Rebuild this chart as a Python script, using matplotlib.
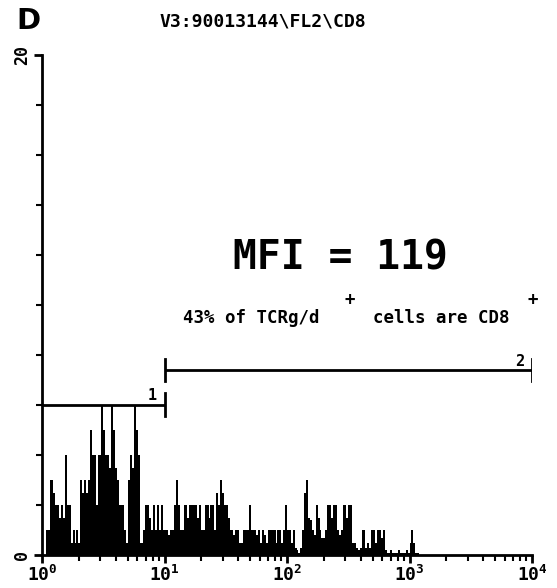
import numpy as np
import matplotlib
matplotlib.use("Agg")
import matplotlib.pyplot as plt
from matplotlib.ticker import FixedLocator, NullFormatter

# counts per channel, 64 channels per decade
counts_dec0 = [0, 0, 1, 1, 3, 3, 2.5, 2, 2, 1.5, 2, 1.5, 4, 2, 2, 0.5,
               1, 0.5, 1, 0.5, 3, 2.5, 3, 2.5, 3, 5, 4, 4, 2, 4, 4, 6,
               5, 4, 4, 3.5, 6, 5, 3.5, 3, 2, 2, 2, 1, 0.5, 3, 4, 3.5,
               6, 5, 4, 0.5, 0.5, 1, 2, 2, 1.5, 1, 2, 1, 2, 1, 2, 1]
counts_dec1 = [1, 1, 0.8, 1, 1, 2, 3, 2, 1, 1, 2, 2, 1.5, 2, 2, 2,
               2, 1.5, 2, 1, 1, 2, 2, 1.5, 2, 2, 1, 2.5, 2, 3, 2.5, 2,
               2, 1.5, 1, 1, 0.8, 1, 1, 0.5, 0.5, 1, 1, 1, 2, 1, 1, 1,
               0.8, 1, 0.5, 1, 0.8, 0.5, 1, 1, 1, 1, 0.5, 1, 1, 0.5, 1, 2]
counts_dec2 = [1, 1, 0.5, 1, 0.3, 0.2, 0.1, 0.3, 1, 2.5, 3, 1.5, 1.4, 1, 0.8, 2,
               1.5, 1, 0.7, 0.7, 1, 2, 2, 1.5, 2, 2, 1, 0.8, 1, 2, 2, 1.5,
               2, 2, 0.5, 0.5, 0.3, 0.2, 0.3, 1, 1, 0.3, 0.5, 0.3, 1, 1, 0.5, 1,
               1, 0.7, 1, 0.2, 0.1, 0.1, 0.2, 0.1, 0.1, 0.1, 0.2, 0.1, 0.1, 0.1, 0.2, 0.1,
               0.5, 1, 0.5, 0.1, 0.1, 0, 0, 0]
counts = np.array(counts_dec0 + counts_dec1 + counts_dec2)
channels_per_decade = 64

gate1 = (1, 10, 6.0)
gate2 = (10, 1e4, 7.4)

title = "V3:90013144\\FL2\\CD8"
mfi_text = "MFI = 119"

plt.rcParams['mathtext.fontset'] = 'custom'
plt.rcParams['mathtext.rm'] = 'DejaVu Sans Mono:bold'
plt.rcParams['mathtext.it'] = 'DejaVu Sans Mono:bold'
plt.rcParams['mathtext.bf'] = 'DejaVu Sans Mono:bold'

W, H = 557, 588
fig = plt.figure(figsize=(W / 100, H / 100), dpi=100)
ax = fig.add_axes([42 / W, 33 / H, 490 / W, 500 / H])

edges = 10 ** (np.arange(len(counts) + 1) / channels_per_decade)
ax.stairs(counts, edges, fill=True, color='black', linewidth=0)

ax.set_xscale('log')
ax.set_xlim(1, 1e4)
ax.set_ylim(0, 20)

for s in ['top', 'right']:
    ax.spines[s].set_visible(False)
for s in ['left', 'bottom']:
    ax.spines[s].set_linewidth(2)

# x ticks
ax.xaxis.set_major_locator(FixedLocator([1, 10, 100, 1000, 10000]))
minors = [m * 10 ** d for d in range(4) for m in range(2, 10)]
ax.xaxis.set_minor_locator(FixedLocator(minors))
ax.xaxis.set_minor_formatter(NullFormatter())
ax.set_xticklabels([r'$10^{0}$', r'$10^{1}$', r'$10^{2}$', r'$10^{3}$', r'$10^{4}$'],
                   fontsize=13)
ax.tick_params(axis='x', which='major', direction='out', length=6, width=2, pad=1)
ax.tick_params(axis='x', which='minor', direction='out', length=4, width=1.5)

# y ticks
ax.yaxis.set_major_locator(FixedLocator([0, 20]))
ax.yaxis.set_minor_locator(FixedLocator(list(range(2, 20, 2))))
ax.set_yticklabels(['0', '20'], rotation=90, va='center',
                   fontfamily='DejaVu Sans Mono', fontweight='bold', fontsize=12)
ax.tick_params(axis='y', which='major', direction='out', length=6, width=2, pad=2)
ax.tick_params(axis='y', which='minor', direction='out', length=4, width=1.5)

# gate markers
x0, x1, y = gate1
ax.plot([x0, x1], [y, y], color='black', lw=2, solid_capstyle='butt')
ax.plot([x1, x1], [y - 0.45, y + 0.5], color='black', lw=2)
ax.text(x1 * 0.86, y + 0.1, '1', ha='right', va='bottom',
        fontfamily='DejaVu Sans Mono', fontweight='bold', fontsize=11)
x0, x1, y = gate2
ax.plot([x0, x1], [y, y], color='black', lw=2, solid_capstyle='butt')
for xe in (x0, x1):
    ax.plot([xe, xe], [y - 0.45, y + 0.45], color='black', lw=2)
ax.text(x1 * 0.86, y + 0.05, '2', ha='right', va='bottom',
        fontfamily='DejaVu Sans Mono', fontweight='bold', fontsize=11)

def px(x, y):
    return x / W, 1 - y / H

fig.text(*px(28, 21), 'D', ha='center', va='center', fontsize=21,
         fontweight='bold', fontfamily='DejaVu Sans')
fig.text(*px(263, 21), title, ha='center', va='center', fontsize=13,
         fontfamily='DejaVu Sans Mono', fontweight='bold')
fig.text(*px(340, 258), mfi_text, ha='center', va='center', fontsize=28.5,
         fontfamily='DejaVu Sans Mono', fontweight='bold')

mono = dict(fontfamily='DejaVu Sans Mono', fontweight='bold', fontsize=12.5, va='center')
fig.text(*px(183, 318), '43% of TCRg/d', ha='left', **mono)
fig.text(*px(350, 300), '+', ha='center', **mono)
fig.text(*px(373, 318), 'cells are CD8', ha='left', **mono)
fig.text(*px(533, 300), '+', ha='center', **mono)

fig.savefig('out.png', dpi=100)
